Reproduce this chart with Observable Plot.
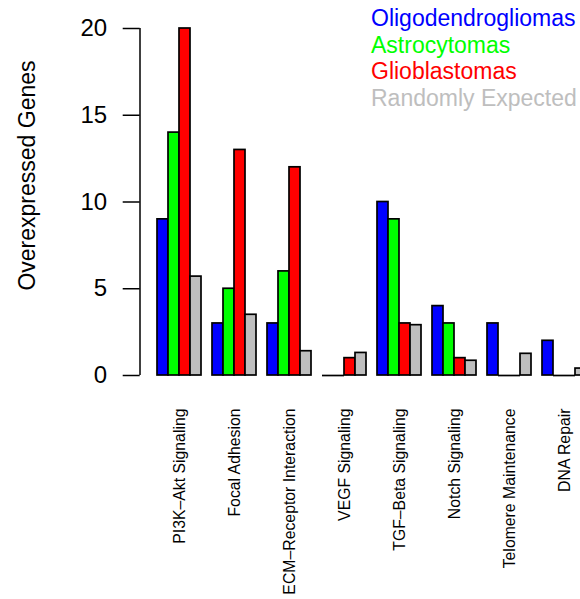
<!DOCTYPE html>
<html><head><meta charset="utf-8">
<script src="https://cdn.jsdelivr.net/npm/d3@7"></script>
<script src="https://cdn.jsdelivr.net/npm/@observablehq/plot@0.6"></script>
<style>
body{margin:0;background:#fff;font-family:"Liberation Sans",Arial,Helvetica,sans-serif;}
#wrap{position:relative;width:580px;height:599px;overflow:hidden;background:#fff;}
#legend{position:absolute;left:371px;top:5px;font-size:23px;line-height:26.67px;white-space:nowrap;}
</style></head><body>
<div id="wrap"><div id="legend"></div></div>
<script>
const categories = ["PI3K\u2013Akt Signaling", "Focal Adhesion", "ECM\u2013Receptor Interaction", "VEGF Signaling",
  "TGF\u2013Beta Signaling", "Notch Signaling", "Telomere Maintenance", "DNA Repair"];
const seriesNames = ["Oligodendrogliomas", "Astrocytomas", "Glioblastomas", "Randomly Expected"];
const oligodendrogliomas = [9, 3, 3, 0, 10, 4, 3, 2];
const astrocytomas       = [14, 5, 6, 0, 9, 3, 0, 0];
const glioblastomas      = [20, 13, 12, 1, 3, 1, 0, 0];
const randomlyExpected   = [5.7, 3.5, 1.4, 1.3, 2.9, 0.85, 1.25, 0.4];
const seriesColors = ["#0000FF", "#00FF00", "#FF0000", "#BEBEBE"];
const yTicks = [0, 5, 10, 15, 20];

const valuesBySeries = [oligodendrogliomas, astrocytomas, glioblastomas, randomlyExpected];
const rows = categories.flatMap((c, i) => seriesNames.map((s, j) => ({category: c, series: s, value: valuesBySeries[j][i]})));
const nonzero = rows.filter(d => d.value > 0);
const zeros = rows.filter(d => d.value === 0);

const font = "'Liberation Sans', Arial, Helvetica, sans-serif";
const chart = Plot.plot({
  width: 580, height: 599,
  marginTop: 28, marginBottom: 224, marginLeft: 136, marginRight: -6,
  style: {fontFamily: font, background: "white", color: "black", overflow: "hidden"},
  fx: {domain: categories, range: [136, 586.2], paddingInner: 0.2, paddingOuter: 0.156, align: 1, axis: null, label: null},
  x: {domain: seriesNames, padding: 0, axis: null},
  y: {domain: [0, 20], axis: null},
  color: {domain: seriesNames, range: seriesColors},
  marks: [
    Plot.barY(nonzero, {fx: "category", x: "series", y: "value", fill: "series", stroke: "black", strokeWidth: 1.7}),
    Plot.tickY(zeros, {fx: "category", x: "series", y: "value", stroke: "black", strokeWidth: 1.7}),
    Plot.ruleX([categories[0]], {fx: d => d, x: null, y1: 0, y2: 20, stroke: "black", strokeWidth: 1.5, dx: -39.5}),
    Plot.axisY({ticks: yTicks, tickSize: 17, tickPadding: 16, fontSize: 24, dx: -17.3, label: null, stroke: "black", strokeWidth: 1.5}),
    Plot.text([categories[0]], {fx: d => d, text: () => "Overexpressed Genes", frameAnchor: "left", rotate: -90,
      fontSize: 23, dx: -129.5, dy: -26.5, textAnchor: "middle", lineAnchor: "middle"}),
    Plot.axisFx({anchor: "bottom", tickSize: 0, tickPadding: 33, tickRotate: -90, fontSize: 15.8, label: null})
  ]
});
document.getElementById("wrap").prepend(chart);

const legend = document.getElementById("legend");
seriesNames.forEach((s, i) => {
  const div = document.createElement("div");
  div.textContent = s;
  div.style.color = seriesColors[i];
  legend.appendChild(div);
});
</script>
</body></html>
